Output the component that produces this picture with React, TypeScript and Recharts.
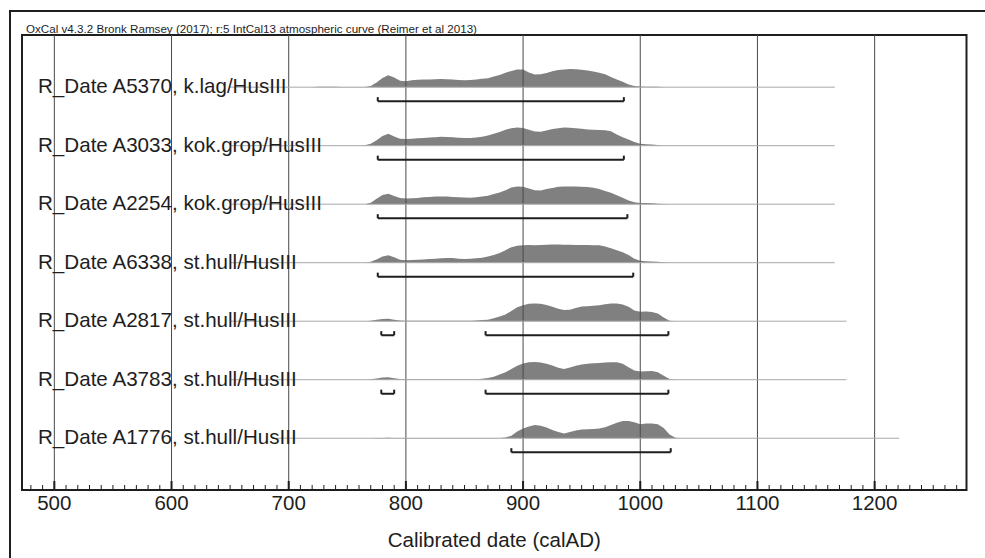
import {
  ComposedChart,
  Area,
  XAxis,
  YAxis,
  ReferenceLine,
  ReferenceArea,
} from "recharts";

// OxCal multiplot look
const FONT = "'Liberation Sans', Arial, sans-serif";
const INK = "#1e1e1e";
const FILL = "#808080";
const BASE_LINE = "#a9a9a9";
const GRID = "#4a4a4a";

// axis ranges (calAD) and row layout in y units (one unit = one row)
const X_MIN = 472.4;
const X_MAX = 1278.4;
const Y_MIN = -0.885;
const Y_MAX = 6.892;
const PEAK = 0.316; // height of a full probability peak
const BRACKET_DROP = 0.24; // range bar sits under the baseline
const CAP = 0.07;

const HEADER =
  "OxCal v4.3.2 Bronk Ramsey (2017); r:5 IntCal13 atmospheric curve (Reimer et al 2013)";
const AXIS_TITLE = "Calibrated date (calAD)";

const LABELS = [
  "R_Date A5370, k.lag/HusIII",
  "R_Date A3033, kok.grop/HusIII",
  "R_Date A2254, kok.grop/HusIII",
  "R_Date A6338, st.hull/HusIII",
  "R_Date A2817, st.hull/HusIII",
  "R_Date A3783, st.hull/HusIII",
  "R_Date A1776, st.hull/HusIII",
];

const GRID_YEARS = [500, 600, 700, 800, 900, 1000, 1100, 1200];
const TICK_YEARS = Array.from({ length: 80 }, (_, i) => 480 + i * 10);

// sample years of the calibrated distributions
const YEARS = [
  720, 725, 730, 735, 740, 745, 750, 755, 760, 765,
  770, 775, 780, 785, 790, 795, 800, 805, 810, 815,
  820, 825, 830, 835, 840, 845, 850, 855, 860, 865,
  870, 875, 880, 885, 890, 895, 900, 905, 910, 915,
  920, 925, 930, 935, 940, 945, 950, 955, 960, 965,
  970, 975, 980, 985, 990, 995, 1000, 1005, 1010, 1015,
  1020, 1025, 1030, 1035, 1040, 1045, 1050,
];

// relative probability (1 = tallest peak)
const A5370 = [
  0, 0.02, 0.03, 0.03, 0.02, 0.01, 0.01, 0.01, 0.01, 0.01,
  0.06, 0.25, 0.5, 0.64, 0.52, 0.35, 0.32, 0.38, 0.4, 0.41,
  0.42, 0.43, 0.44, 0.43, 0.41, 0.39, 0.38, 0.39, 0.41, 0.45,
  0.49, 0.58, 0.66, 0.78, 0.88, 0.96, 0.95, 0.8, 0.68, 0.7,
  0.77, 0.86, 0.93, 0.96, 0.98, 0.97, 0.94, 0.9, 0.85, 0.78,
  0.7, 0.55, 0.42, 0.3, 0.15, 0.07, 0.04, 0.03, 0.03, 0.02,
  0, 0, 0, 0, 0, 0, 0,
];
const A3033 = [
  0, 0, 0, 0, 0, 0, 0, 0, 0, 0.02,
  0.1, 0.3, 0.52, 0.64, 0.5, 0.38, 0.36, 0.38, 0.4, 0.42,
  0.44, 0.46, 0.48, 0.47, 0.45, 0.43, 0.41, 0.41, 0.44, 0.48,
  0.55, 0.65, 0.74, 0.86, 0.95, 0.98, 0.96, 0.86, 0.77, 0.75,
  0.82, 0.9, 0.95, 0.98, 0.97, 0.95, 0.92, 0.88, 0.86, 0.85,
  0.83, 0.78, 0.6, 0.45, 0.33, 0.2, 0.11, 0.08, 0.07, 0.04,
  0, 0, 0, 0, 0, 0, 0,
];
const A2254 = [
  0, 0, 0, 0, 0, 0, 0, 0, 0, 0,
  0.08, 0.3, 0.5, 0.56, 0.45, 0.33, 0.31, 0.32, 0.34, 0.37,
  0.39, 0.41, 0.42, 0.41, 0.39, 0.37, 0.36, 0.35, 0.37, 0.42,
  0.46, 0.55, 0.63, 0.76, 0.9, 0.96, 0.94, 0.85, 0.76, 0.74,
  0.82, 0.88, 0.94, 0.96, 0.96, 0.96, 0.95, 0.93, 0.89, 0.82,
  0.72, 0.62, 0.48, 0.35, 0.2, 0.1, 0.07, 0.06, 0.05, 0.03,
  0.01, 0, 0, 0, 0, 0, 0,
];
const A6338 = [
  0, 0, 0, 0, 0, 0, 0, 0, 0, 0,
  0.05, 0.18, 0.34, 0.4, 0.3, 0.16, 0.13, 0.15, 0.16, 0.18,
  0.2, 0.22, 0.24, 0.26, 0.25, 0.22, 0.2, 0.21, 0.24, 0.27,
  0.33, 0.42, 0.52, 0.68, 0.84, 0.92, 0.95, 0.96, 0.95, 0.96,
  0.97, 0.98, 0.98, 0.97, 0.97, 0.96, 0.96, 0.96, 0.95, 0.95,
  0.88, 0.78, 0.68, 0.56, 0.42, 0.22, 0.1, 0.08, 0.06, 0.05,
  0.03, 0, 0, 0, 0, 0, 0,
];
const A2817 = [
  0, 0, 0, 0, 0, 0, 0, 0, 0, 0,
  0.02, 0.08, 0.12, 0.13, 0.08, 0.04, 0.03, 0.03, 0.03, 0.03,
  0.03, 0.03, 0.03, 0.03, 0.03, 0.03, 0.03, 0.03, 0.04, 0.06,
  0.08, 0.16, 0.26, 0.36, 0.55, 0.75, 0.87, 0.94, 0.96, 0.94,
  0.88, 0.78, 0.68, 0.61, 0.62, 0.72, 0.79, 0.81, 0.84, 0.87,
  0.92, 0.96, 0.96, 0.9, 0.78, 0.58, 0.51, 0.52, 0.5, 0.42,
  0.2, 0.03, 0, 0, 0, 0, 0,
];
const A3783 = [
  0, 0, 0, 0, 0, 0, 0, 0, 0, 0,
  0.02, 0.07, 0.12, 0.13, 0.08, 0.04, 0.03, 0.03, 0.03, 0.03,
  0.03, 0.03, 0.03, 0.03, 0.03, 0.03, 0.03, 0.03, 0.03, 0.05,
  0.09, 0.16, 0.28, 0.4, 0.58, 0.76, 0.88, 0.94, 0.96, 0.93,
  0.87, 0.77, 0.65, 0.58, 0.66, 0.76, 0.82, 0.86, 0.89, 0.91,
  0.93, 0.95, 0.94, 0.87, 0.68, 0.5, 0.45, 0.46, 0.47, 0.4,
  0.22, 0.04, 0, 0, 0, 0, 0,
];
const A1776 = [
  0, 0, 0, 0, 0, 0, 0, 0, 0, 0,
  0, 0.01, 0.01, 0.02, 0.01, 0.01, 0.01, 0.01, 0.01, 0.01,
  0.01, 0.01, 0.01, 0.01, 0.01, 0.01, 0.01, 0.01, 0.01, 0.01,
  0.01, 0.01, 0.01, 0.04, 0.14, 0.36, 0.52, 0.64, 0.71, 0.68,
  0.58, 0.45, 0.33, 0.26, 0.34, 0.42, 0.47, 0.49, 0.5, 0.52,
  0.6, 0.71, 0.84, 0.93, 0.93, 0.86, 0.76, 0.79, 0.8, 0.76,
  0.55, 0.2, 0.02, 0, 0, 0, 0,
];
const DENSITIES = [A5370, A3033, A2254, A6338, A2817, A3783, A1776];

// 95.4% ranges (calAD)
const RANGES = [
  [[776, 986]],
  [[776, 986]],
  [[776, 989]],
  [[776, 994]],
  [[779, 790], [868, 1024]],
  [[779, 790], [868, 1024]],
  [[890, 1026]],
];

// extent of each row's thin baseline (calAD)
const LINE_FROM = [650, 650, 650, 650, 650, 650, 690];
const LINE_TO = [1166, 1166, 1166, 1166, 1176, 1176, 1221];

const chartData = YEARS.map((year, i) => {
  const row: Record<string, number> = { year };
  DENSITIES.forEach((d, r) => {
    row[`r${r}`] = d[i];
  });
  return row;
});

const rowBase = (r: number) => LABELS.length - 1 - r;

function YearTick({ x, y, payload }: any) {
  const v = payload.value;
  const major = v % 100 === 0;
  return (
    <g>
      <line
        x1={x}
        x2={x}
        y1={y}
        y2={y - (major ? 9 : 5)}
        stroke={INK}
        strokeWidth={major ? 2 : 1}
      />
      {major && (
        <text
          x={x}
          y={y + 19.5}
          textAnchor="middle"
          fontSize={20.5}
          fontFamily={FONT}
          fill={INK}
        >
          {v}
        </text>
      )}
    </g>
  );
}

function RowLabel({ x, y, payload }: any) {
  return (
    <text x={x} y={y + 6} textAnchor="start" fontSize={20.6} fontFamily={FONT} fill={INK}>
      {LABELS[LABELS.length - 1 - payload.value]}
    </text>
  );
}

export default function App() {
  return (
    <div
      style={{
        position: "absolute",
        left: 0,
        top: 0,
        width: 985,
        height: 558,
        overflow: "hidden",
        background: "#fff",
      }}
    >
      {/* outer page frame */}
      <div
        style={{
          position: "absolute",
          left: 9,
          top: 10,
          width: 980,
          height: 548,
          borderTop: `2px solid ${INK}`,
          borderLeft: `2px solid ${INK}`,
        }}
      />
      <svg
        width={985}
        height={40}
        style={{ position: "absolute", left: 0, top: 0 }}
      >
        <text
          x={26}
          y={33}
          fontSize={10}
          fontFamily={FONT}
          fill={INK}
          textLength={451}
          lengthAdjust="spacingAndGlyphs"
        >
          {HEADER}
        </text>
      </svg>
      <div style={{ position: "absolute", left: 0, top: 0 }}>
        <ComposedChart
          width={985}
          height={558}
          data={chartData}
          margin={{ top: 35, right: 18.5, bottom: 8, left: 22 }}
        >
          <XAxis
            dataKey="year"
            type="number"
            domain={[X_MIN, X_MAX]}
            allowDataOverflow
            ticks={TICK_YEARS}
            interval={0}
            tick={(p: any) => <YearTick {...p} />}
            tickLine={false}
            axisLine={false}
            tickSize={0}
            tickMargin={0}
            height={60}
            label={{
              value: AXIS_TITLE,
              position: "insideBottom",
              offset: 3,
              fontSize: 20.5,
              fontFamily: FONT,
              fill: INK,
            }}
          />
          <YAxis
            type="number"
            domain={[Y_MIN, Y_MAX]}
            allowDataOverflow
            ticks={[6, 5, 4, 3, 2, 1, 0]}
            interval={0}
            mirror
            width={1}
            axisLine={false}
            tickLine={false}
            tickSize={0}
            tickMargin={16}
            tick={(p: any) => <RowLabel {...p} />}
          />

          {GRID_YEARS.map((g) => (
            <ReferenceLine key={`g${g}`} x={g} stroke={GRID} strokeWidth={1} />
          ))}

          {LABELS.map((_, r) => (
            <ReferenceLine
              key={`b${r}`}
              segment={[
                { x: LINE_FROM[r], y: rowBase(r) },
                { x: LINE_TO[r], y: rowBase(r) },
              ]}
              stroke={BASE_LINE}
              strokeWidth={1}
            />
          ))}

          {DENSITIES.map((_, r) => (
            <Area
              key={`a${r}`}
              type="linear"
              dataKey={(d: any) => rowBase(r) + d[`r${r}`] * PEAK}
              baseValue={rowBase(r)}
              stroke="none"
              fill={FILL}
              fillOpacity={1}
              dot={false}
              activeDot={false}
              isAnimationActive={false}
            />
          ))}

          {RANGES.flatMap((ranges, r) =>
            ranges.flatMap(([from, to], k) => {
              const y = rowBase(r) - BRACKET_DROP;
              const seg = (a: any, b: any, key: string) => (
                <ReferenceLine
                  key={key}
                  segment={[a, b]}
                  stroke={INK}
                  strokeWidth={2}
                />
              );
              return [
                seg({ x: from, y }, { x: to, y }, `h${r}-${k}`),
                seg({ x: from, y }, { x: from, y: y + CAP }, `l${r}-${k}`),
                seg({ x: to, y }, { x: to, y: y + CAP }, `r${r}-${k}`),
              ];
            })
          )}

          {/* plot frame */}
          <ReferenceArea
            x1={X_MIN}
            x2={X_MAX}
            y1={Y_MIN}
            y2={Y_MAX}
            fill="none"
            stroke={INK}
            strokeWidth={2}
          />
        </ComposedChart>
      </div>
    </div>
  );
}
